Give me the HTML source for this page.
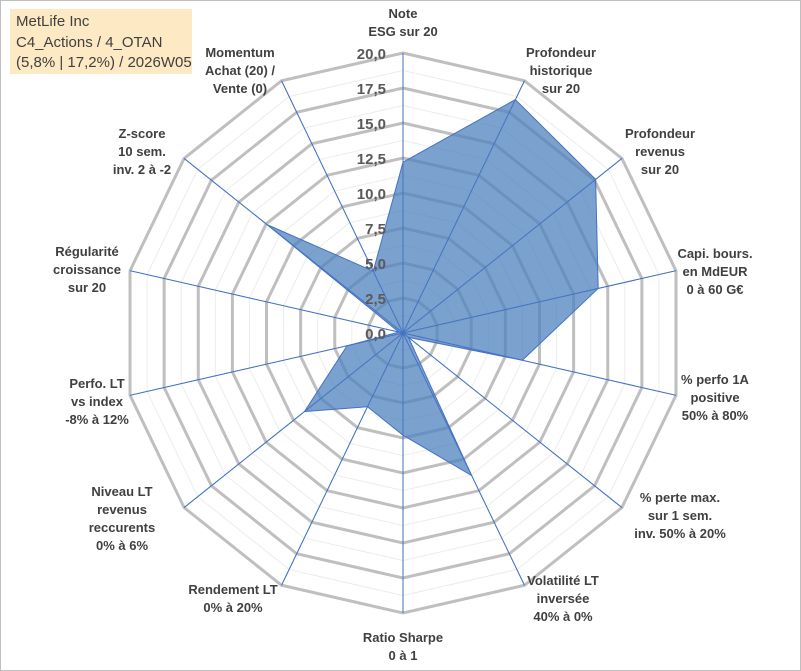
<!DOCTYPE html>
<html><head><meta charset="utf-8"><style>
body{margin:0;width:801px;height:671px;overflow:hidden;background:#fff;font-family:"Liberation Sans",sans-serif}
#frame{position:absolute;left:0;top:0;width:799px;height:669px;border:1px solid #bfbfbf}
#title{position:absolute;left:10px;top:9px;width:182px;height:65px;background:#fde9c3;color:#404040;font-size:15px;line-height:20.5px;padding:3px 0 0 6px;box-sizing:border-box}
</style></head><body>
<div id="frame"></div>
<div id="title">MetLife Inc<br>C4_Actions / 4_OTAN<br>(5,8% | 17,2%) / 2026W05</div>
<svg id="chart" width="801" height="671" style="position:absolute;left:0;top:0"></svg>
<script>
const categories=[["Note","ESG sur 20"],["Profondeur","historique","sur 20"],["Profondeur","revenus","sur 20"],["Capi. bours.","en MdEUR","0 à 60 G€"],["% perfo 1A","positive","50% à 80%"],["% perte max.","sur 1 sem.","inv. 50% à 20%"],["Volatilité LT","inversée","40% à 0%"],["Ratio Sharpe","0 à 1"],["Rendement LT","0% à 20%"],["Niveau LT","revenus","reccurents","0% à 6%"],["Perfo. LT","vs index","-8% à 12%"],["Régularité","croissance","sur 20"],["Z-score","10 sem.","inv. 2 à -2"],["Momentum","Achat (20) /","Vente (0)"]];
const values=[12.2,18.5,17.6,14.3,8.75,0.5,11.3,7.3,5.85,9.0,4.1,0.3,12.4,4.9];
const tickLabels=["0,0","2,5","5,0","7,5","10,0","12,5","15,0","17,5","20,0"];
const maxVal=20;
const labelPos=[[403,13],[561,52],[660,133],[715,253],[715,379],[680,497],[563,580],[403,637],[233,589],[122,491],[97,383],[87,251],[142,133],[240,52]];
const svg=document.getElementById('chart');const NS="http://www.w3.org/2000/svg";
const cx=403,cy=333,R=280,n=categories.length;
function pt(i,v){const a=-Math.PI/2+i*2*Math.PI/n;const r=v/maxVal*R;return [cx+r*Math.cos(a),cy+r*Math.sin(a)];}
function mk(t,attrs){const e=document.createElementNS(NS,t);for(const k in attrs)e.setAttribute(k,attrs[k]);svg.appendChild(e);return e;}
for(let k=1;k<=16;k++){const v=k*1.25;const major=k%2===0;
 const p=[];for(let i=0;i<n;i++)p.push(pt(i,v).join(','));
 const g=mk('polygon',{points:p.join(' '),fill:'none',stroke:major?'#bfbfbf':'#ececec','stroke-width':major?3:1});
 
 }
for(let i=0;i<n;i++){const [x,y]=pt(i,maxVal);const l=mk('line',{x1:cx,y1:cy,x2:x,y2:y,stroke:'#4472c4','stroke-width':1});
 
 }
const poly=mk('polygon',{points:values.map((v,i)=>pt(i,v).join(',')).join(' '),fill:'#4f81bd','fill-opacity':0.75,stroke:'#4472c4','stroke-width':1});


for(let i=0;i<n;i++){const [x,y]=pt(i,maxVal);const l=mk('line',{x1:cx,y1:cy,x2:x,y2:y,stroke:'#4472c4','stroke-width':0.8,'stroke-opacity':0.8});
 
 }
tickLabels.forEach((t,k)=>{const y=cy-k*2.5/maxVal*R;const e=mk('text',{x:386,y:y+6,'text-anchor':'end','font-size':15,'font-weight':'bold',fill:'#595959'});e.textContent=t;
 
 });
categories.forEach((lines,i)=>{const [x,y]=labelPos[i];const e=mk('text',{'text-anchor':'middle','font-size':13,'font-weight':'bold',fill:'#404040'});
 
 
 lines.forEach((s,j)=>{const ts=document.createElementNS(NS,'tspan');ts.setAttribute('x',x);ts.setAttribute('y',y+5+j*18);ts.textContent=s;e.appendChild(ts);});});
</script>
</body></html>
